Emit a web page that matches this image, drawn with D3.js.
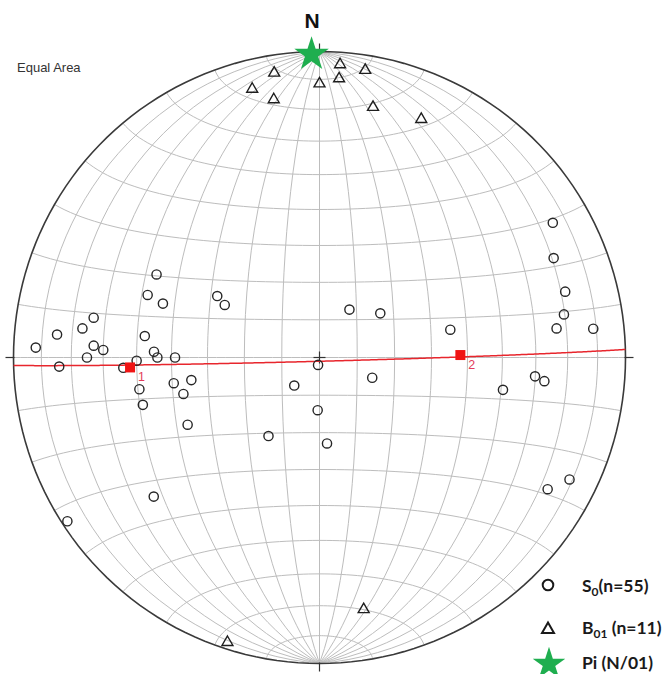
<!DOCTYPE html>
<html>
<head>
<meta charset="utf-8">
<script src="https://cdn.jsdelivr.net/npm/d3@7"></script>
<style>
  html, body { margin: 0; padding: 0; background: #fff; }
  svg { display: block; }
</style>
</head>
<body>
<svg id="chart" width="667" height="674"></svg>
<script>
// S0 bedding poles, lower hemisphere: trend (deg clockwise from N) and plunge (deg)
const s0Trend  = [297, 290, 289, 301, 299, 280, 277, 275, 272, 273,
                  272, 270, 268, 277, 272, 270, 270, 269, 267, 260,
                  255, 260, 260, 255, 243, 213, 191, 222, 182, 175,
                   32,  54,  78, 111, 100,  95,  96,  75,  80,  83,
                   84,  60,  67, 230, 237, 116, 120];
const s0Plunge = [ 40,  40,  45,  58,  61,  26,  23,  15,   8,  27,
                   30,  25,  16,  42,  45,  46,  51,  40,  36,  40,
                   40,  50,  55,  52,  50,  65,  88,  80,  76,  67,
                   75,  70,  54,  75,  39,  30,  27,  18,  20,  23,
                   11,  13,  18,  30,   2,  10,  15];

// B01 fold axes
const b01Trend  = [351, 346, 350,   0,   4,   4,   9,  12,  23, 170, 198];
const b01Plunge = [  6,  10,  15,  11,   4,   9,   5,  17,  16,  18,   3];

// Pi axis: pole to the best-fit S0 girdle
const piTrend = 358.5;
const piPlunge = 1;

// Numbered points on the girdle
const girdleLabels = ["1", "2"];
const girdleTrend  = [267, 89];
const girdlePlunge = [38, 52];

// Legend
const legendSymbols = ["circle", "triangle", "star"];
const legendMain = ["S", "B", "Pi"];
const legendSub  = ["0", "01", ""];
const legendRest = ["(n=55)", " (n=11)", " (N/01)"];

const svg = d3.select("#chart");
const cx = 319.5, cy = 357.5, R = 306;

// Schmidt net: equatorial Lambert azimuthal equal-area projection
const projection = d3.geoAzimuthalEqualArea()
  .rotate([0, 0])
  .clipAngle(90)
  .precision(0.1)
  .scale(R / Math.SQRT2)
  .translate([cx, cy]);
const path = d3.geoPath(projection);

// trend/plunge of a line -> lon/lat on the net sphere (centre = vertical)
function lineToLonLat(trend, plunge) {
  const t = trend * Math.PI / 180;
  const c = (90 - plunge) * Math.PI / 180;
  const lat = Math.asin(Math.sin(c) * Math.cos(t));
  const lon = Math.atan2(Math.sin(t) * Math.sin(c), Math.cos(c));
  return [lon * 180 / Math.PI, lat * 180 / Math.PI];
}
const proj = (t, p) => projection(lineToLonLat(t, p));

// 10-degree graticule
const graticule = d3.geoGraticule()
  .extentMinor([[-180, -89.999], [180, 89.999]])
  .stepMinor([10, 10]);
svg.append("path")
  .datum(graticule())
  .attr("d", path)
  .attr("fill", "none")
  .attr("stroke", "#bdbdbd")
  .attr("stroke-width", 1);

// primitive circle
svg.append("path")
  .datum({ type: "Sphere" })
  .attr("d", path)
  .attr("fill", "none")
  .attr("stroke", "#3a3a3a")
  .attr("stroke-width", 1.6);

// N, E, S, W ticks and centre cross
const tickG = svg.append("g").attr("stroke", "#333").attr("stroke-width", 1.2);
[0, 90, 180, 270].forEach(az => {
  const a = az * Math.PI / 180;
  tickG.append("line")
    .attr("x1", cx + (R - 1) * Math.sin(a)).attr("y1", cy - (R - 1) * Math.cos(a))
    .attr("x2", cx + (R + 8) * Math.sin(a)).attr("y2", cy - (R + 8) * Math.cos(a));
});
tickG.append("line").attr("x1", cx - 6).attr("x2", cx + 6).attr("y1", cy).attr("y2", cy);
tickG.append("line").attr("x1", cx).attr("x2", cx).attr("y1", cy - 6).attr("y2", cy + 6);

// Pi girdle (great circle whose pole is Pi)
const ring = d3.geoCircle()
  .center(lineToLonLat(piTrend, piPlunge))
  .radius(90)
  .precision(0.5)().coordinates[0];
svg.append("path")
  .datum({ type: "LineString", coordinates: ring })
  .attr("d", path)
  .attr("fill", "none")
  .attr("stroke", "#e8262d")
  .attr("stroke-width", 1.5);

// S0 poles
svg.append("g").selectAll("circle")
  .data(d3.range(s0Trend.length))
  .join("circle")
  .attr("cx", i => proj(s0Trend[i], s0Plunge[i])[0])
  .attr("cy", i => proj(s0Trend[i], s0Plunge[i])[1])
  .attr("r", 4.6)
  .attr("fill", "none")
  .attr("stroke", "#262626")
  .attr("stroke-width", 1.4);

// B01 axes
const tri = d3.symbol(d3.symbolTriangle, 52);
svg.append("g").selectAll("path")
  .data(d3.range(b01Trend.length))
  .join("path")
  .attr("d", tri)
  .attr("transform", i => {
    const p = proj(b01Trend[i], b01Plunge[i]);
    return `translate(${p[0]},${p[1] + 1.5})`;
  })
  .attr("fill", "none")
  .attr("stroke", "#1e1e1e")
  .attr("stroke-width", 1.4);

// numbered girdle points
const sq = d3.symbol(d3.symbolSquare, 100);
const gl = svg.append("g");
girdleLabels.forEach((lab, i) => {
  const p = proj(girdleTrend[i], girdlePlunge[i]);
  gl.append("path").attr("d", sq)
    .attr("transform", `translate(${p[0]},${p[1]})`)
    .attr("fill", "#f01414");
  gl.append("text")
    .attr("x", p[0] + 8).attr("y", p[1] + 13.5)
    .attr("font-family", "Liberation Sans, Arial, sans-serif")
    .attr("font-size", 12.5)
    .attr("fill", "#e33d5b")
    .text(lab);
});

// Pi star
const star = d3.symbol(d3.symbolStar, 370);
const piP = proj(piTrend, piPlunge);
svg.append("path").attr("d", star)
  .attr("transform", `translate(${piP[0]},${piP[1]})`)
  .attr("fill", "#1fae4f");

// titles
svg.append("text")
  .attr("x", 312).attr("y", 28)
  .attr("text-anchor", "middle")
  .attr("font-family", "Liberation Sans, Arial, sans-serif")
  .attr("font-weight", "bold")
  .attr("font-size", 21)
  .attr("fill", "#111")
  .text("N");
svg.append("text")
  .attr("x", 17).attr("y", 72)
  .attr("font-family", "Liberation Sans, Arial, sans-serif")
  .attr("font-size", 13)
  .attr("fill", "#333")
  .text("Equal Area");

// legend
const legY = [585, 628, 664];
const legBase = [592, 634, 669];
const lg = svg.append("g");
legendSymbols.forEach((s, i) => {
  const y = legY[i];
  if (s === "circle") {
    lg.append("circle").attr("cx", 548).attr("cy", y).attr("r", 5.3)
      .attr("fill", "none").attr("stroke", "#1a1a1a").attr("stroke-width", 2);
  } else if (s === "triangle") {
    lg.append("path").attr("d", d3.symbol(d3.symbolTriangle, 62))
      .attr("transform", `translate(548,${y + 1.5})`)
      .attr("fill", "none").attr("stroke", "#1a1a1a").attr("stroke-width", 2);
  } else {
    lg.append("path").attr("d", d3.symbol(d3.symbolStar, 330))
      .attr("transform", `translate(549,${y})`)
      .attr("fill", "#1fae4f");
  }
  const t = lg.append("text")
    .attr("x", 582).attr("y", legBase[i])
    .attr("font-family", "Lato, 'Open Sans', sans-serif")
    .attr("font-weight", "bold")
    .attr("font-size", 17.5)
    .attr("fill", "#1a1a1a");
  t.append("tspan").text(legendMain[i]);
  if (legendSub[i]) {
    t.append("tspan").attr("font-size", 12).attr("dy", 4).text(legendSub[i]);
    t.append("tspan").attr("dy", -4).text(legendRest[i]);
  } else {
    t.append("tspan").text(legendRest[i]);
  }
});
</script>
</body>
</html>
